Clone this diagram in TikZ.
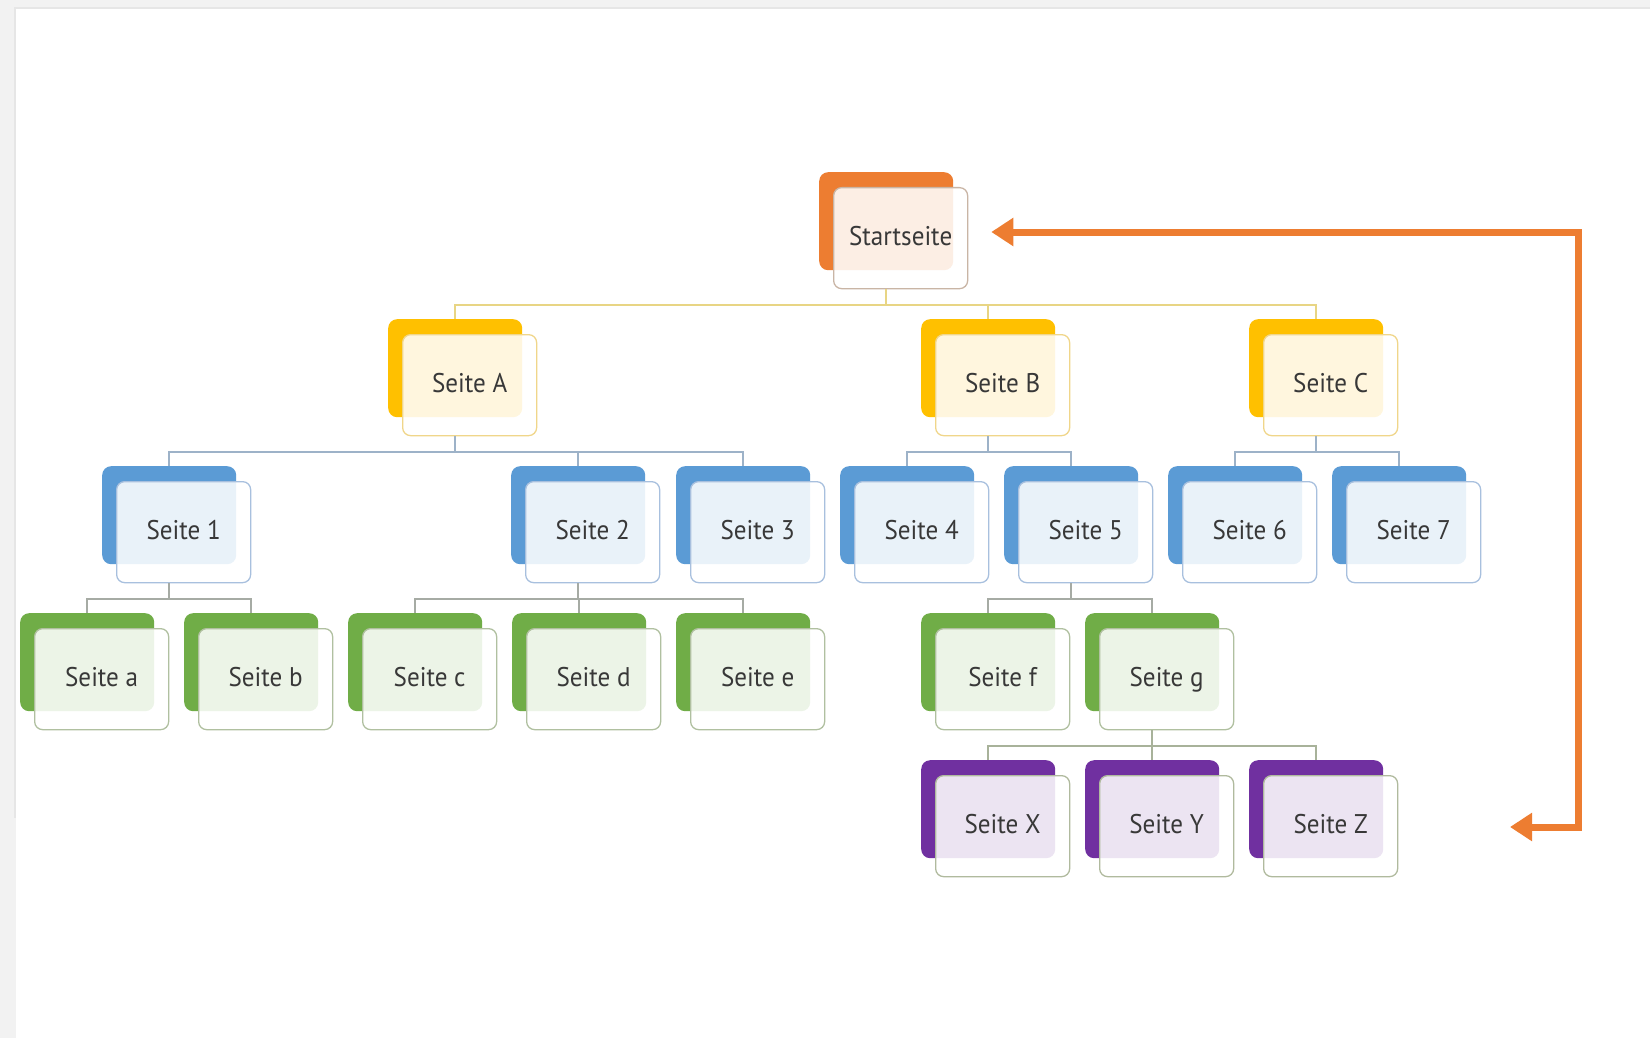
\documentclass[tikz,border=0pt]{standalone}
\usepackage{fontspec}
\setmainfont{PT Sans}[FakeStretch=0.93]
\usetikzlibrary{arrows.meta}
\definecolor{orC}{HTML}{ED7D31}
\definecolor{orCborder}{HTML}{C9B5A5}
\definecolor{yeC}{HTML}{FFC000}
\definecolor{yeCborder}{HTML}{F0D68A}
\definecolor{blC}{HTML}{5B9BD5}
\definecolor{blCborder}{HTML}{A8C0DE}
\definecolor{grC}{HTML}{70AD47}
\definecolor{grCborder}{HTML}{B0C0A0}
\definecolor{puC}{HTML}{7030A0}
\definecolor{puCborder}{HTML}{B0BA9E}
\definecolor{lnYe}{HTML}{E8D584}
\definecolor{lnBl}{HTML}{9DB2C8}
\definecolor{lnGr}{HTML}{A6ABA4}
\definecolor{lnPu}{HTML}{A8B29A}
\definecolor{txt}{HTML}{383838}
\definecolor{bandA}{HTML}{F2F2F2}
\definecolor{bandB}{HTML}{E6E6E6}
\tikzset{
  backbox/.style={anchor=north west, minimum width=134pt, minimum height=98pt,
    rounded corners=9pt, inner sep=0pt},
  frontbox/.style={anchor=north west, minimum width=134pt, minimum height=101pt,
    rounded corners=8pt, inner sep=0pt, fill=white, fill opacity=0.87, text opacity=1,
    line width=1.3pt, text=txt, font=\fontsize{27}{32}\selectfont,
    text height=15.5pt, text depth=0pt},
  conn/.style={line width=1.5pt, draw=#1},
  backarrow/.style={draw=orC, line width=7pt, line join=miter,
    {Triangle[length=22pt,width=27pt]}-{Triangle[length=22pt,width=27pt]}}
}
\newcommand\mkcard[5]{%
  \node[backbox, fill=#4] (#1b) at (#2,#3) {};
  \node[frontbox, draw=#4border] (#1) at (#2+14,#3+15) {#5};
}
\newcommand\mklink[3]{\draw[conn=#3] (#1b.center |- #1.south) -- ++(0,15.5) -| (#2b.north);}
\begin{document}
\begin{tikzpicture}[x=1pt,y=-1pt]
\useasboundingbox (0,0) rectangle (1650,1038);
\fill[white] (0,0) rectangle (1650,1038);
\fill[bandA] (0,0) rectangle (1650,9);
\fill[bandB] (16,7) rectangle (1650,9);
\fill[bandA] (0,0) rectangle (16,1038);
\fill[bandB] (14,7) rectangle (16,818);

\mkcard{st}{819}{172}{orC}{Startseite}
\mkcard{A}{388}{319}{yeC}{Seite A}
\mkcard{B}{921}{319}{yeC}{Seite B}
\mkcard{C}{1249}{319}{yeC}{Seite C}
\mkcard{s1}{102}{466}{blC}{Seite 1}
\mkcard{s2}{511}{466}{blC}{Seite 2}
\mkcard{s3}{676}{466}{blC}{Seite 3}
\mkcard{s4}{840}{466}{blC}{Seite 4}
\mkcard{s5}{1004}{466}{blC}{Seite 5}
\mkcard{s6}{1168}{466}{blC}{Seite 6}
\mkcard{s7}{1332}{466}{blC}{Seite 7}
\mkcard{pa}{20}{613}{grC}{Seite a}
\mkcard{pb}{184}{613}{grC}{Seite b}
\mkcard{pc}{348}{613}{grC}{Seite c}
\mkcard{pd}{512}{613}{grC}{Seite d}
\mkcard{pe}{676}{613}{grC}{Seite e}
\mkcard{pf}{921}{613}{grC}{Seite f}
\mkcard{pg}{1085}{613}{grC}{Seite g}
\mkcard{X}{921}{760}{puC}{Seite X}
\mkcard{Y}{1085}{760}{puC}{Seite Y}
\mkcard{Z}{1249}{760}{puC}{Seite Z}

\mklink{st}{A}{lnYe}
\mklink{st}{B}{lnYe}
\mklink{st}{C}{lnYe}
\mklink{A}{s1}{lnBl}
\mklink{A}{s2}{lnBl}
\mklink{A}{s3}{lnBl}
\mklink{B}{s4}{lnBl}
\mklink{B}{s5}{lnBl}
\mklink{C}{s6}{lnBl}
\mklink{C}{s7}{lnBl}
\mklink{s1}{pa}{lnGr}
\mklink{s1}{pb}{lnGr}
\mklink{s2}{pc}{lnGr}
\mklink{s2}{pd}{lnGr}
\mklink{s2}{pe}{lnGr}
\mklink{s5}{pf}{lnGr}
\mklink{s5}{pg}{lnGr}
\mklink{pg}{X}{lnPu}
\mklink{pg}{Y}{lnPu}
\mklink{pg}{Z}{lnPu}

\coordinate (ae) at (1510,827);
\draw[backarrow] (ae) -- (1578,827) -- (1578,232) -- ([xshift=23pt]st.east |- 0,232);
\end{tikzpicture}
\end{document}
